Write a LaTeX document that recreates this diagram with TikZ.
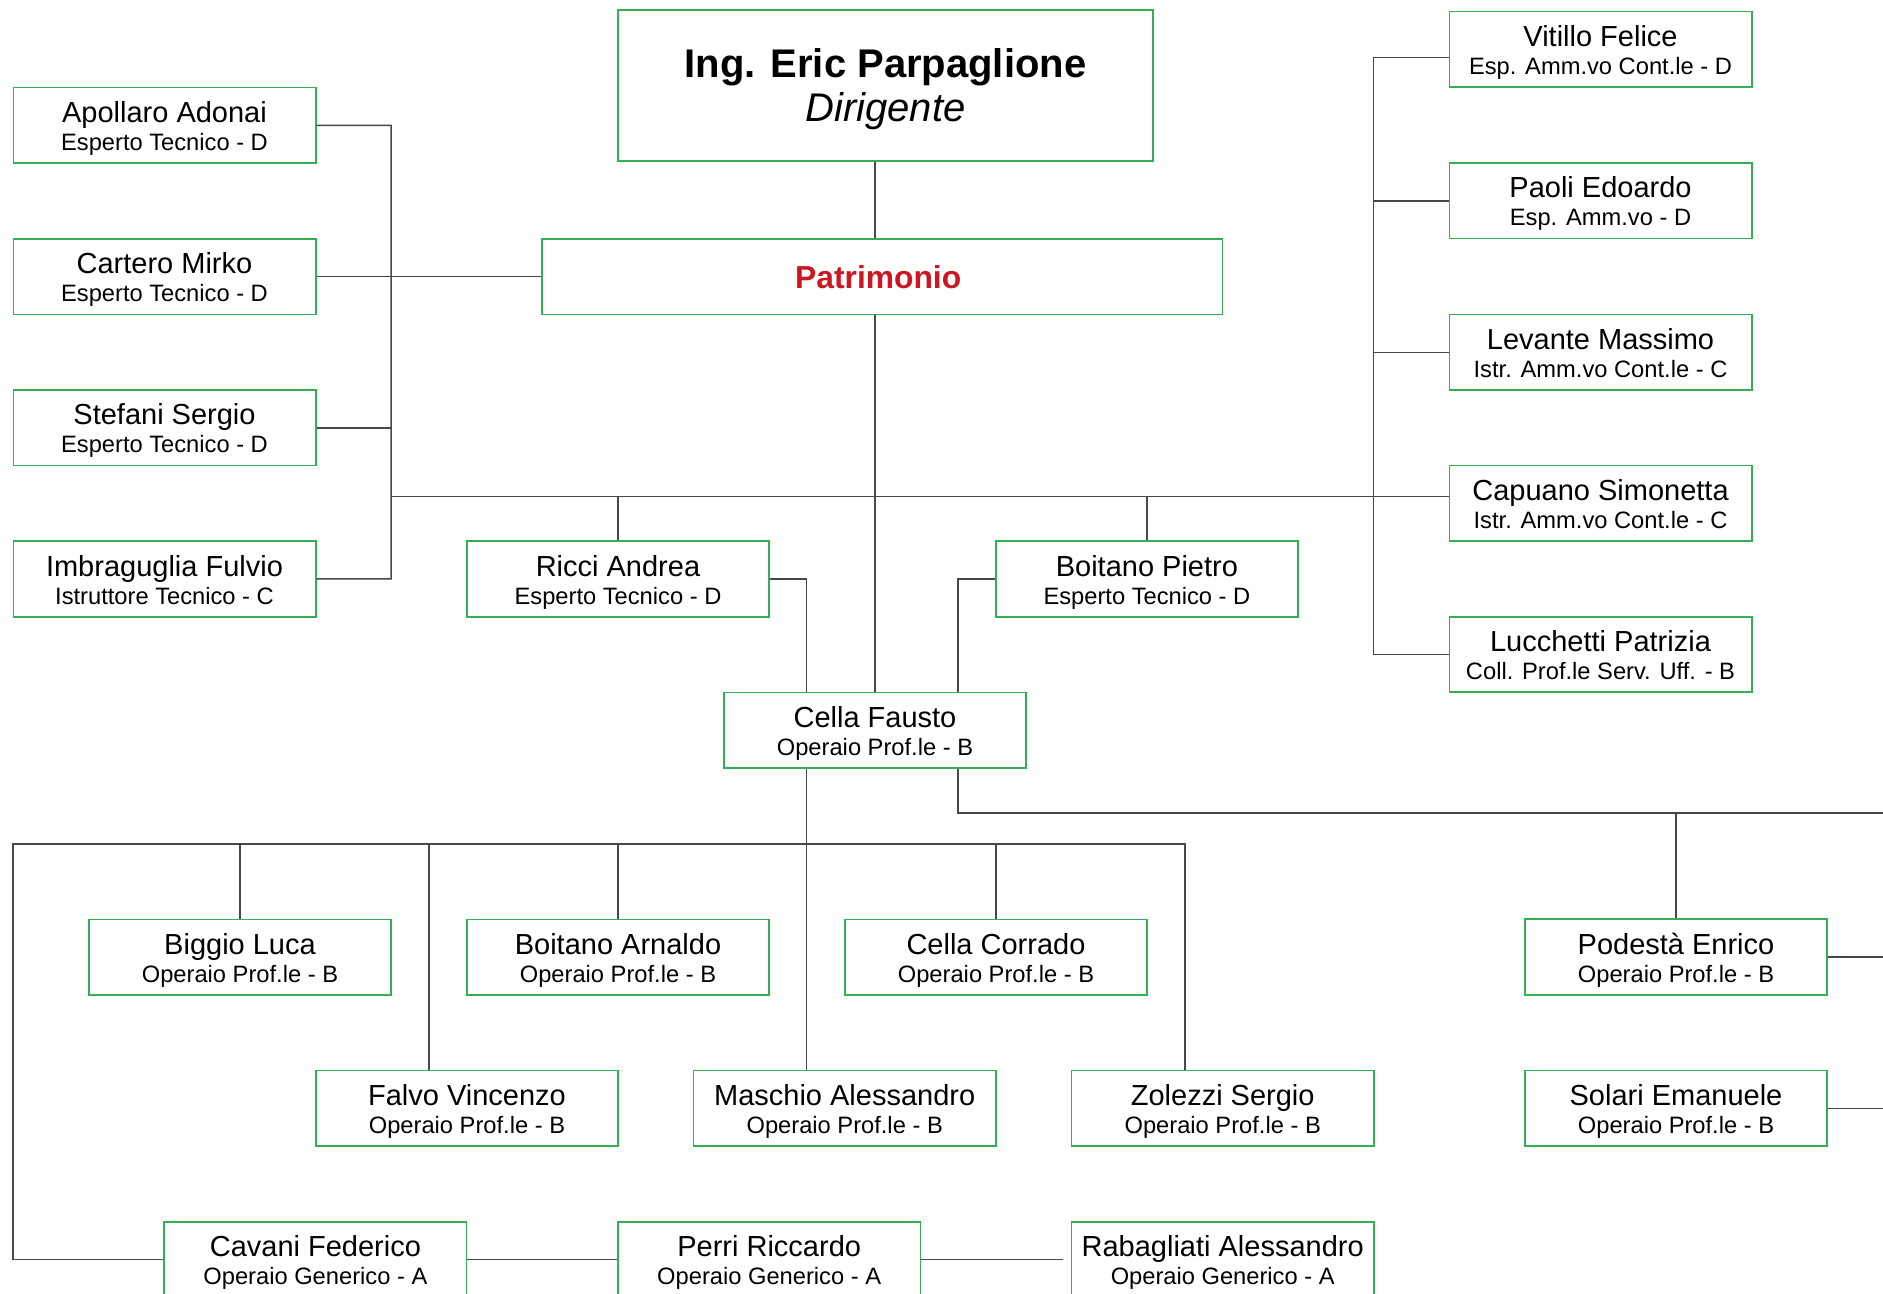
\documentclass[tikz,border=0pt]{standalone}
\usepackage{fontspec}
\setmainfont{Liberation Sans}
\definecolor{boxgreen}{RGB}{52,176,84}
\definecolor{linegray}{RGB}{72,72,72}
\definecolor{patred}{RGB}{206,22,32}
\tikzset{
  pbox/.style={draw=boxgreen,line width=0.8pt,minimum width=151.2pt,minimum height=37.75pt,inner sep=0pt,fill=white},
  nametxt/.style={inner sep=0pt,font=\fontsize{14.5}{16}\selectfont},
  subtxt/.style={inner sep=0pt,font=\fontsize{11.85}{13}\selectfont},
  conn/.style={draw=linegray,line width=0.75pt}
}
\newcommand\person[5]{%
  \node[pbox] (#1) at (#2,#3) {};
  \node[nametxt,anchor=base] (#1n) at ([yshift=1.5pt]#1.center) {#4};
  \node[subtxt,anchor=base] (#1s) at ([yshift=-12.5pt]#1.center) {#5};
}
\begin{document}
\begin{tikzpicture}[x=0.5pt,y=-0.5pt]
\useasboundingbox (0,0) rectangle (1883,1294);
\clip (0,0) rectangle (1883,1294);
\fill[white] (0,0) rectangle (1883,1294);

% helper coordinates
\coordinate (xA) at (806.7,0);
\coordinate (xB) at (958,0);
\coordinate (xC) at (429,0);
\coordinate (edge) at (1900,0);
\coordinate (lsTop) at (391.1,125.7);
\coordinate (lsBot) at (391.1,578.8);
\coordinate (hl) at (391.1,496.3);
\coordinate (rsTop) at (1373.6,57.4);
\coordinate (bl) at (12.9,843.9);
\coordinate (br) at (1184.8,843.9);
\coordinate (rb) at (958,813.1);

% boxes
\node[pbox,minimum width=267.5pt,minimum height=75.5pt] (dir) at (885.5,85.5) {};
\node[inner sep=0pt,anchor=base,font=\fontsize{20}{22}\selectfont\bfseries] (dirn) at ([yshift=4pt]dir.center) {Ing. Eric Parpaglione};
\node[inner sep=0pt,anchor=base,font=\fontsize{20}{22}\selectfont\itshape] (dirs) at ([yshift=-18pt]dir.center) {Dirigente};

\node[pbox,minimum width=340.15pt] (pat) at (882.2,276.6) {};
\node[inner sep=0pt,anchor=base,text=patred,font=\fontsize{15.9}{18}\selectfont\bfseries] (patn) at ([xshift=-2pt,yshift=-5.8pt]pat.center) {Patrimonio};

\person{apollaro}{164.5}{125.3}{Apollaro Adonai}{Esperto Tecnico - D}
\person{cartero}{164.5}{276.6}{Cartero Mirko}{Esperto Tecnico - D}
\person{stefani}{164.5}{427.8}{Stefani Sergio}{Esperto Tecnico - D}
\person{imbra}{164.5}{579}{Imbraguglia Fulvio}{Istruttore Tecnico - C}
\person{ricci}{618}{579}{Ricci Andrea}{Esperto Tecnico - D}
\person{boitanoP}{1146.9}{579}{Boitano Pietro}{Esperto Tecnico - D}

\person{vitillo}{1600.5}{49.4}{Vitillo Felice}{Esp. Amm.vo Cont.le - D}
\person{paoli}{1600.5}{200.9}{Paoli Edoardo}{Esp. Amm.vo - D}
\person{levante}{1600.5}{352.4}{Levante Massimo}{Istr. Amm.vo Cont.le - C}
\person{capuano}{1600.5}{503.3}{Capuano Simonetta}{Istr. Amm.vo Cont.le - C}
\person{lucchetti}{1600.5}{654.5}{Lucchetti Patrizia}{Coll. Prof.le Serv. Uff. - B}

\person{fausto}{875}{730.2}{Cella Fausto}{Operaio Prof.le - B}

\person{biggio}{240}{957.2}{Biggio Luca}{Operaio Prof.le - B}
\person{boitanoA}{618}{957.2}{Boitano Arnaldo}{Operaio Prof.le - B}
\person{corrado}{996}{957.2}{Cella Corrado}{Operaio Prof.le - B}
\person{falvo}{467}{1108.3}{Falvo Vincenzo}{Operaio Prof.le - B}
\person{maschio}{844.7}{1108.3}{Maschio Alessandro}{Operaio Prof.le - B}
\person{zolezzi}{1222.7}{1108.3}{Zolezzi Sergio}{Operaio Prof.le - B}
\person{cavani}{315.4}{1259.6}{Cavani Federico}{Operaio Generico - A}
\person{perri}{769.2}{1259.6}{Perri Riccardo}{Operaio Generico - A}
\person{rabagliati}{1222.7}{1259.6}{Rabagliati Alessandro}{Operaio Generico - A}
\person{podesta}{1676}{957}{Podestà Enrico}{Operaio Prof.le - B}
\person{solari}{1676}{1108.3}{Solari Emanuele}{Operaio Prof.le - B}

% connectors
\draw[conn] (fausto.north |- dir.south) -- (fausto.north |- pat.north);
\draw[conn] (fausto.north |- pat.south) -- (fausto.north);
\draw[conn] (apollaro.east) -- (apollaro.east -| lsTop) -- (lsBot) -- (imbra.east);
\draw[conn] (cartero.east) -- (pat.west);
\draw[conn] (stefani.east) -- (stefani.east -| lsTop);
\draw[conn] (hl) -- (hl -| capuano.west);
\draw[conn] (ricci.north) -- (ricci.north |- hl);
\draw[conn] (boitanoP.north) -- (boitanoP.north |- hl);
\draw[conn] (vitillo.west |- rsTop) -- (rsTop) -- (rsTop |- lucchetti.west) -- (lucchetti.west);
\draw[conn] (paoli.west) -- (paoli.west -| rsTop);
\draw[conn] (levante.west) -- (levante.west -| rsTop);
\draw[conn] (ricci.east) -| (xA |- fausto.north);
\draw[conn] (boitanoP.west) -| (xB |- fausto.north);
\draw[conn] (xA |- fausto.south) -- (xA |- maschio.north);
\draw[conn] (cavani.west) -| (bl) -- (br) -- (br |- zolezzi.north);
\draw[conn] (biggio.north) -- (biggio.north |- bl);
\draw[conn] (boitanoA.north) -- (boitanoA.north |- bl);
\draw[conn] (corrado.north) -- (corrado.north |- bl);
\draw[conn] (xC |- bl) -- (xC |- falvo.north);
\draw[conn] (cavani.east) -- (perri.west);
\draw[conn,shorten >=4pt] (perri.east) -- (rabagliati.west);
\draw[conn] (xB |- fausto.south) -- (rb) -- (rb -| edge);
\draw[conn] (podesta.north) -- (podesta.north |- rb);
\draw[conn] (podesta.east) -- (podesta.east -| edge);
\draw[conn] (solari.east) -- (solari.east -| edge);
\end{tikzpicture}
\end{document}
